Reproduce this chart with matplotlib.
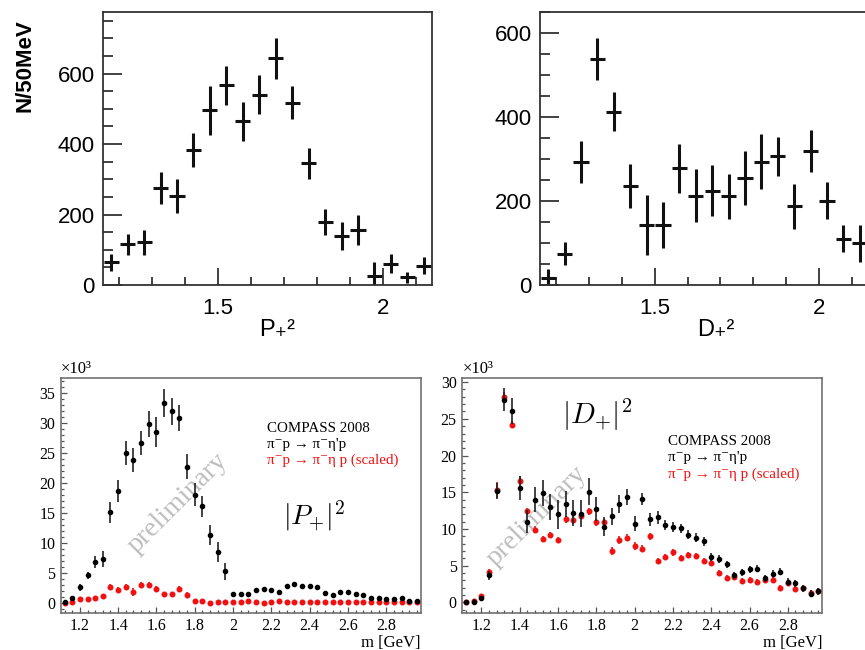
import matplotlib
matplotlib.use("Agg")
import matplotlib.pyplot as plt
from matplotlib.ticker import MultipleLocator

# ── Data ──────────────────────────────────────────────────
# top row: 50 MeV bins
TOP_MASS = [1.175, 1.225, 1.275, 1.325, 1.375, 1.425, 1.475, 1.525, 1.575, 1.625,
            1.675, 1.725, 1.775, 1.825, 1.875, 1.925, 1.975, 2.025, 2.075, 2.125]
P_COUNTS = [64, 115, 121, 276, 253, 384, 496, 567, 465, 540,
            643, 518, 345, 180, 140, 156, 26, 61, 22, 55]
P_ERR = [25, 30, 35, 45, 48, 48, 70, 55, 55, 55,
         57, 47, 44, 37, 40, 42, 38, 26, 15, 25]
D_COUNTS = [17, 75, 294, 538, 413, 236, 143, 143, 278, 213,
            225, 211, 254, 294, 306, 187, 320, 201, 110, 99]
D_ERR = [22, 27, 50, 49, 46, 52, 71, 54, 58, 63,
         60, 54, 64, 66, 46, 54, 50, 44, 32, 45]

# bottom row: 40 MeV bins, values in units of 10^3
MASS = [1.12, 1.16, 1.20, 1.24, 1.28, 1.32, 1.36, 1.40, 1.44, 1.48, 1.52, 1.56,
        1.60, 1.64, 1.68, 1.72, 1.76, 1.80, 1.84, 1.88, 1.92, 1.96, 2.00, 2.04,
        2.08, 2.12, 2.16, 2.20, 2.24, 2.28, 2.32, 2.36, 2.40, 2.44, 2.48, 2.52,
        2.56, 2.60, 2.64, 2.68, 2.72, 2.76, 2.80, 2.84, 2.88, 2.92, 2.96]

P_ETAP = [0.2, 0.8, 2.6, 4.6, 6.8, 7.3, 15.1, 18.6, 25.0, 23.8, 26.7, 29.8,
          28.4, 33.3, 31.9, 30.8, 22.7, 18.0, 16.1, 11.3, 8.5, 5.3, 1.5, 1.5,
          1.5, 2.1, 2.4, 2.2, 1.9, 2.8, 3.1, 2.8, 2.9, 2.7, 1.7, 1.3,
          1.8, 1.8, 1.5, 1.3, 0.8, 0.9, 0.6, 0.7, 0.8, 0.3, 0.3]
P_ETAP_ERR = [0.2, 0.4, 0.6, 0.6, 1.0, 1.3, 1.8, 1.8, 2.0, 2.0, 2.0, 2.1,
              2.5, 2.4, 2.2, 2.1, 2.1, 1.9, 1.7, 1.7, 1.7, 1.4, 0.3, 0.3,
              0.3, 0.3, 0.3, 0.3, 0.3, 0.3, 0.3, 0.3, 0.3, 0.3, 0.3, 0.3,
              0.3, 0.3, 0.3, 0.3, 0.3, 0.3, 0.3, 0.3, 0.3, 0.3, 0.3]
P_ETA = [0.0, 0.1, 0.6, 0.7, 0.9, 1.2, 2.6, 2.2, 2.6, 1.8, 3.0, 3.0,
         2.4, 1.5, 1.5, 2.3, 1.4, 0.3, 0.3, 0.05, 0.1, 0.1, 0.1, 0.1,
         0.35, 0.1, 0.0, 0.2, 0.3, 0.15, 0.1, 0.1, 0.1, 0.1, 0.25, 0.1,
         0.1, 0.1, 0.1, 0.1, 0.1, 0.1, 0.1, 0.1, 0.1, 0.1, 0.1]
P_ETA_ERR = [0.1, 0.1, 0.2, 0.2, 0.3, 0.3, 0.5, 0.5, 0.5, 0.7, 0.5, 0.5,
             0.5, 0.4, 0.4, 0.5, 0.4, 0.2, 0.2, 0.1, 0.1, 0.1, 0.1, 0.1,
             0.1, 0.1, 0.1, 0.1, 0.1, 0.1, 0.1, 0.1, 0.1, 0.1, 0.1, 0.1,
             0.1, 0.1, 0.1, 0.1, 0.1, 0.1, 0.1, 0.1, 0.1, 0.1, 0.1]

D_ETAP = [0.0, 0.1, 0.6, 3.7, 15.2, 27.6, 26.1, 15.6, 11.0, 14.0, 14.9, 13.0,
          12.0, 13.4, 12.2, 12.1, 15.1, 12.7, 10.3, 11.7, 13.4, 14.3, 10.7, 14.1,
          11.3, 11.6, 10.5, 10.3, 10.1, 9.2, 8.8, 8.3, 6.2, 5.9, 5.2, 3.7,
          4.1, 4.5, 4.6, 3.3, 3.9, 4.2, 2.8, 2.6, 1.9, 1.2, 1.5]
D_ETAP_ERR = [0.3, 0.3, 0.3, 0.6, 1.1, 1.6, 1.8, 1.6, 1.6, 1.7, 1.8, 1.8,
              2.0, 1.8, 1.8, 1.8, 1.8, 1.6, 1.3, 1.2, 1.2, 1.1, 1.0, 0.8,
              0.9, 0.9, 0.7, 0.7, 0.6, 0.6, 0.6, 0.6, 0.5, 0.5, 0.5, 0.5,
              0.5, 0.5, 0.5, 0.5, 0.5, 0.5, 0.5, 0.5, 0.5, 0.5, 0.5]
D_ETA = [0.0, 0.2, 0.9, 4.2, 15.3, 28.0, 24.2, 16.6, 12.4, 9.9, 8.6, 9.2,
         8.5, 11.3, 11.2, 11.8, 12.4, 10.9, 10.9, 7.0, 8.5, 8.8, 7.7, 7.3,
         9.0, 5.7, 6.2, 6.8, 6.0, 6.5, 6.3, 5.7, 5.3, 4.0, 3.3, 3.4,
         2.9, 3.0, 2.8, 3.0, 3.0, 2.0, 2.7, 1.8, 1.9, 1.3, 1.5]
D_ETA_ERR = [0.1, 0.2, 0.3, 0.4, 1.1, 0.6, 0.5, 0.6, 0.5, 0.5, 0.4, 0.4,
             0.4, 0.5, 0.5, 0.5, 0.5, 0.5, 0.5, 0.5, 0.5, 0.5, 0.5, 0.5,
             0.5, 0.4, 0.4, 0.5, 0.4, 0.4, 0.4, 0.4, 0.4, 0.4, 0.4, 0.4,
             0.4, 0.4, 0.4, 0.4, 0.4, 0.4, 0.4, 0.4, 0.4, 0.4, 0.4]

# ── Style ─────────────────────────────────────────────────
SANS = ["Liberation Sans", "DejaVu Sans"]
SERIF = ["Liberation Serif", "DejaVu Serif"]
RED = "#f01010"
W, H = 865, 650

plt.rcParams["mathtext.fontset"] = "cm"


def px_axes(fig, left, top, right, bottom):
    """Add axes from pixel box coordinates (origin top-left)."""
    return fig.add_axes([left / W, 1 - bottom / H, (right - left) / W, (bottom - top) / H])


def short_num(v, _):
    return f"{v:g}"


# ── Top row (wave intensities, sans style) ────────────────
def plot_top(ax, y, yerr, ymax):
    ax.errorbar(TOP_MASS, y, yerr=yerr, xerr=0.023, fmt="none",
                ecolor="#111111", elinewidth=2.2, capsize=0)
    ax.set_xlim(1.15, 2.15)
    ax.set_ylim(0, ymax)
    ax.xaxis.set_major_locator(MultipleLocator(0.5))
    ax.xaxis.set_minor_locator(MultipleLocator(0.1))
    ax.xaxis.set_major_formatter(short_num)
    ax.yaxis.set_major_locator(MultipleLocator(200))
    ax.yaxis.set_minor_locator(MultipleLocator(50))
    ax.tick_params(which="both", direction="in", top=False, right=False,
                   width=1.3, color="#333333", labelsize=16)
    ax.tick_params(axis="y", which="major", length=14, pad=6)
    ax.tick_params(axis="y", which="minor", length=7)
    ax.tick_params(axis="x", which="major", length=12, pad=9)
    ax.tick_params(axis="x", which="minor", length=6)
    for lab in ax.get_xticklabels() + ax.get_yticklabels():
        lab.set_family(SANS)
    for s in ax.spines.values():
        s.set_color("#333333")
        s.set_linewidth(1.3)


# ── Bottom row (COMPASS comparison, serif style) ─────────
def plot_bottom(ax, etap, etap_err, eta, eta_err, ymin, ymax):
    ax.errorbar(MASS, eta, yerr=eta_err, fmt="o", ms=3.3, color=RED,
                elinewidth=1.2, capsize=0, zorder=3)
    ax.errorbar(MASS, etap, yerr=etap_err, fmt="o", ms=3.0, color="black",
                ecolor="#222222", elinewidth=1.2, capsize=0, zorder=4)
    ax.set_xlim(1.1, 2.98)
    ax.set_ylim(ymin, ymax)
    ax.xaxis.set_major_locator(MultipleLocator(0.2))
    ax.xaxis.set_minor_locator(MultipleLocator(0.04))
    ax.yaxis.set_major_locator(MultipleLocator(5))
    ax.yaxis.set_minor_locator(MultipleLocator(1))
    ax.xaxis.set_major_formatter(short_num)
    ax.tick_params(which="both", direction="in", top=False, right=False,
                   width=0.9, color="#555555", labelsize=11.5)
    ax.tick_params(which="major", length=4.5, pad=4)
    ax.tick_params(which="minor", length=2.3)
    for lab in ax.get_xticklabels() + ax.get_yticklabels():
        lab.set_family(SERIF)
    for s in ax.spines.values():
        s.set_color("#666666")
        s.set_linewidth(1.1)
    ax.text(0.0, 1.005, "×10³", transform=ax.transAxes, family=SERIF,
            fontsize=12, ha="left", va="bottom")
    ax.text(1.0, -0.146, "m [GeV]", transform=ax.transAxes, family=SERIF,
            fontsize=12, ha="right", va="baseline")


def add_legend_text(ax, x, y_top):
    lines = [("COMPASS 2008", "black"),
             ("π⁻p → π⁻η'p", "black"),
             ("π⁻p → π⁻η p (scaled)", RED)]
    step = 16 / 235  # line spacing in axes fraction
    for i, (txt, col) in enumerate(lines):
        ax.text(x, y_top - i * step, txt, transform=ax.transAxes, family=SERIF,
                fontsize=10.8, color=col, ha="left", va="baseline")


def add_watermark(ax, x, y):
    ax.text(x, y, "preliminary", transform=ax.transAxes, family=SERIF,
            fontsize=20, color="#bdbdbd", rotation=45, ha="center",
            va="center", zorder=1)


def main():
    fig = plt.figure(figsize=(W / 100, H / 100), dpi=100)

    ax_p = px_axes(fig, 103, 12, 432, 285)
    plot_top(ax_p, P_COUNTS, P_ERR, 775)
    fig.text(25 / W, 1 - 66 / H, "N/50MeV", family=SANS, fontsize=16,
             fontweight="bold", rotation=90, ha="center", va="center")
    fig.text(277 / W, 1 - 330 / H, "P₊²", family=SANS, fontsize=17,
             ha="center", va="center")

    ax_d = px_axes(fig, 540, 12, 868, 285)
    plot_top(ax_d, D_COUNTS, D_ERR, 650)
    fig.text(716 / W, 1 - 330 / H, "D₊²", family=SANS, fontsize=17,
             ha="center", va="center")

    ax_bp = px_axes(fig, 60.7, 377.7, 420.7, 612.7)
    plot_bottom(ax_bp, P_ETAP, P_ETAP_ERR, P_ETA, P_ETA_ERR, -1.6, 37.5)
    add_legend_text(ax_bp, 0.572, 0.77)
    ax_bp.text(0.704, 0.411, r"$|P_{+}|^2$", transform=ax_bp.transAxes,
               fontsize=20, ha="center", va="center")
    add_watermark(ax_bp, 0.326, 0.467)

    ax_bd = px_axes(fig, 462.3, 377.7, 822.3, 612.7)
    plot_bottom(ax_bd, D_ETAP, D_ETAP_ERR, D_ETA, D_ETA_ERR, -1.4, 30.6)
    add_legend_text(ax_bd, 0.571, 0.712)
    ax_bd.text(0.3756, 0.841, r"$|D_{+}|^2$", transform=ax_bd.transAxes,
               fontsize=21, ha="center", va="center")
    add_watermark(ax_bd, 0.2075, 0.411)

    fig.savefig("out.png", dpi=100)


if __name__ == "__main__":
    main()
